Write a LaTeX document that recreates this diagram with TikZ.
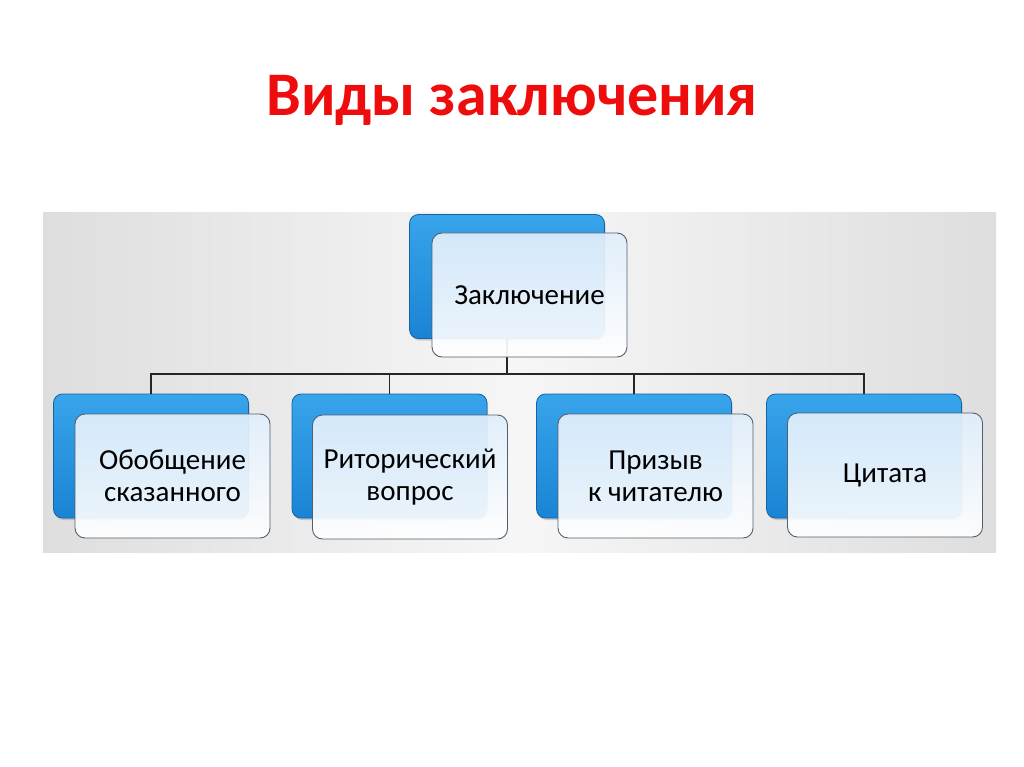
\documentclass[tikz,border=0pt]{standalone}
\usepackage{fontspec}
\setmainfont{Carlito}
\usetikzlibrary{shadows}
\definecolor{titlered}{RGB}{238,12,12}
\definecolor{bluetop}{RGB}{56,164,234}
\definecolor{bluebot}{RGB}{26,132,212}
\definecolor{blueedge}{RGB}{22,98,166}
\definecolor{frontedge}{RGB}{80,96,112}
\definecolor{fronttop}{RGB}{224,238,251}
\definecolor{panelgray}{RGB}{222,222,222}
\definecolor{panelmid}{RGB}{246,246,246}
\tikzset{
  backbox/.style={draw=blueedge, line width=0.8pt, rounded corners=9pt,
    top color=bluetop, bottom color=bluebot,
    minimum width=195pt, minimum height=124pt, inner sep=0pt,
    drop shadow={opacity=0.35, shadow xshift=1pt, shadow yshift=-2pt}},
  frontbox/.style={draw=frontedge, line width=0.9pt, rounded corners=10pt,
    top color=fronttop, bottom color=white, fill opacity=0.93, text opacity=1,
    minimum width=195pt, minimum height=124pt, inner sep=0pt,
    align=center, font=\fontsize{29}{32}\selectfont, text=black},
  conn/.style={draw=black!85, line width=1.1pt},
  title/.style={font=\fontsize{62}{70}\selectfont\bfseries}
}
\begin{document}
\begin{tikzpicture}[x=1pt,y=-1pt]
\useasboundingbox (0,0) rectangle (1024,767);
\fill[white] (0,0) rectangle (1024,767);
% title
\node[title, text=titlered] (title) at (512,100) {Виды заключения};
% panel
\shade[left color=panelgray, right color=panelgray, middle color=panelmid] (43,213) rectangle (996,552);
% back boxes
\node[backbox] (top) at (507,276.5) {};
\node[backbox] (b1) at (151,456) {};
\node[backbox] (b2) at (389.5,456) {};
\node[backbox] (b3) at (634,456) {};
\node[backbox] (b4) at (864,456) {};
% connectors
\coordinate (hub) at (507,374);
\draw[conn] (top.south) -- (hub);
\draw[conn] (hub) -| (b1.north);
\draw[conn] (hub) -| (b2.north);
\draw[conn] (hub) -| (b3.north);
\draw[conn] (hub) -| (b4.north);
% front boxes
\node[frontbox] (ftop) at (529.5,295) {Заключение};
\node[frontbox] (f1) at (172.5,476) {Обобщение\\сказанного};
\node[frontbox] (f2) at (410,477) {Риторический\\вопрос};
\node[frontbox] (f3) at (655.5,476) {Призыв\\к читателю};
\node[frontbox] (f4) at (885,475) {Цитата};
\end{tikzpicture}
\end{document}
